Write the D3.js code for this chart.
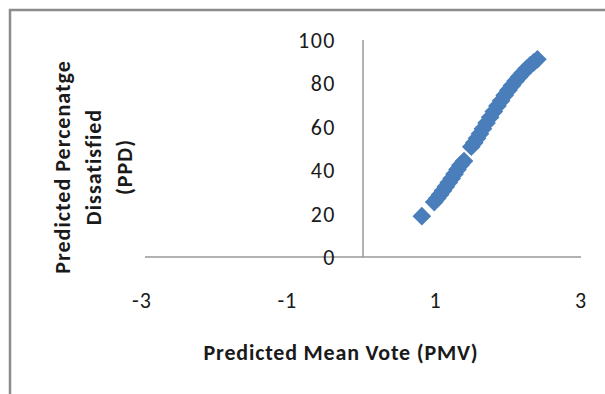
<!DOCTYPE html>
<html>
<head>
<meta charset="utf-8">
<script src="https://cdn.jsdelivr.net/npm/d3@7"></script>
<style>
  body { margin: 0; background: #fff; }
  svg text { font-family: Carlito, Lato, "Open Sans", sans-serif; fill: #1a1a1a; }
</style>
</head>
<body>
<div id="chart"></div>
<script>
//data
let pmv = [0.81, 0.98, 1.02, 1.06, 1.10, 1.14, 1.18, 1.22, 1.26, 1.30, 1.34, 1.39,
           1.49, 1.53, 1.57, 1.61, 1.65, 1.70, 1.75, 1.80, 1.85, 1.90, 1.95, 2.00,
           2.05, 2.10, 2.15, 2.20, 2.25, 2.30, 2.35, 2.40];
let ppd = [18.8, 25.3, 27.0, 28.7, 30.5, 32.4, 34.3, 36.2, 38.2, 40.3, 42.3, 44.2,
           50.8, 52.6, 54.7, 56.8, 59.1, 61.8, 64.4, 67.0, 69.6, 72.0, 74.5, 76.8,
           79.0, 81.1, 83.1, 84.9, 86.7, 88.3, 89.7, 91.1];
let x_ticks = [-3, -1, 1, 3];
let y_ticks = [0, 20, 40, 60, 80, 100];
let y_title = ["Predicted Percenatge", "Dissatisfied", "(PPD)"];
let x_title = "Predicted Mean Vote (PMV)";

let width = 605, height = 394;

let svg = d3.select("#chart")
            .append("svg")
            .attr("width", width)
            .attr("height", height);

//chart frame (only top and left edges show)
svg.append("rect")
   .attr("x", 10).attr("y", 10)
   .attr("width", 800).attr("height", 600)
   .attr("fill", "none")
   .attr("stroke", "#8c8c8c")
   .attr("stroke-width", 2.5);

//scales
let x = d3.scaleLinear().domain([-3, 3]).range([145, 581]);
let y = d3.scaleLinear().domain([0, 100]).range([257, 40]);

//axis lines
svg.append("line")
   .attr("x1", x(-3)).attr("x2", x(3))
   .attr("y1", y(0)).attr("y2", y(0))
   .attr("stroke", "#999").attr("stroke-width", 1.5);
svg.append("line")
   .attr("x1", x(0)).attr("x2", x(0))
   .attr("y1", y(0)).attr("y2", y(100))
   .attr("stroke", "#999").attr("stroke-width", 1.5);

//tick labels
svg.append("g").selectAll("text").data(x_ticks)
   .enter().append("text")
   .attr("x", d => x(d) - (d < 0 ? 3 : 0))
   .attr("y", 308)
   .attr("text-anchor", "middle")
   .style("font-size", "22px")
   .style("letter-spacing", "1px")
   .text(d => d);

svg.append("g").selectAll("text").data(y_ticks)
   .enter().append("text")
   .attr("x", 336)
   .attr("y", d => y(d) + 8)
   .attr("text-anchor", "end")
   .style("font-size", "22px")
   .style("letter-spacing", "1.5px")
   .text(d => d);

//points (diamonds)
let pts = pmv.map((d, i) => [d, ppd[i]]);
svg.append("g").selectAll("path").data(pts)
   .enter().append("path")
   .attr("d", d3.symbol().type(d3.symbolSquare).size(175))
   .attr("transform", d => `translate(${x(d[0])},${y(d[1])}) rotate(45)`)
   .attr("fill", "#4a7ebb");

//axis titles
svg.append("text")
   .attr("x", 341).attr("y", 360)
   .attr("text-anchor", "middle")
   .style("font-size", "22px")
   .style("font-weight", "bold")
   .style("letter-spacing", "0.8px")
   .text(x_title);

svg.append("g")
   .attr("transform", "translate(93,167) rotate(-90)")
   .selectAll("text").data(y_title)
   .enter().append("text")
   .attr("x", 0)
   .attr("y", (d, i) => (i - 1) * 31 + 8)
   .attr("text-anchor", "middle")
   .style("font-size", "22px")
   .style("font-weight", "bold")
   .style("letter-spacing", "1px")
   .text(d => d);
</script>
</body>
</html>
